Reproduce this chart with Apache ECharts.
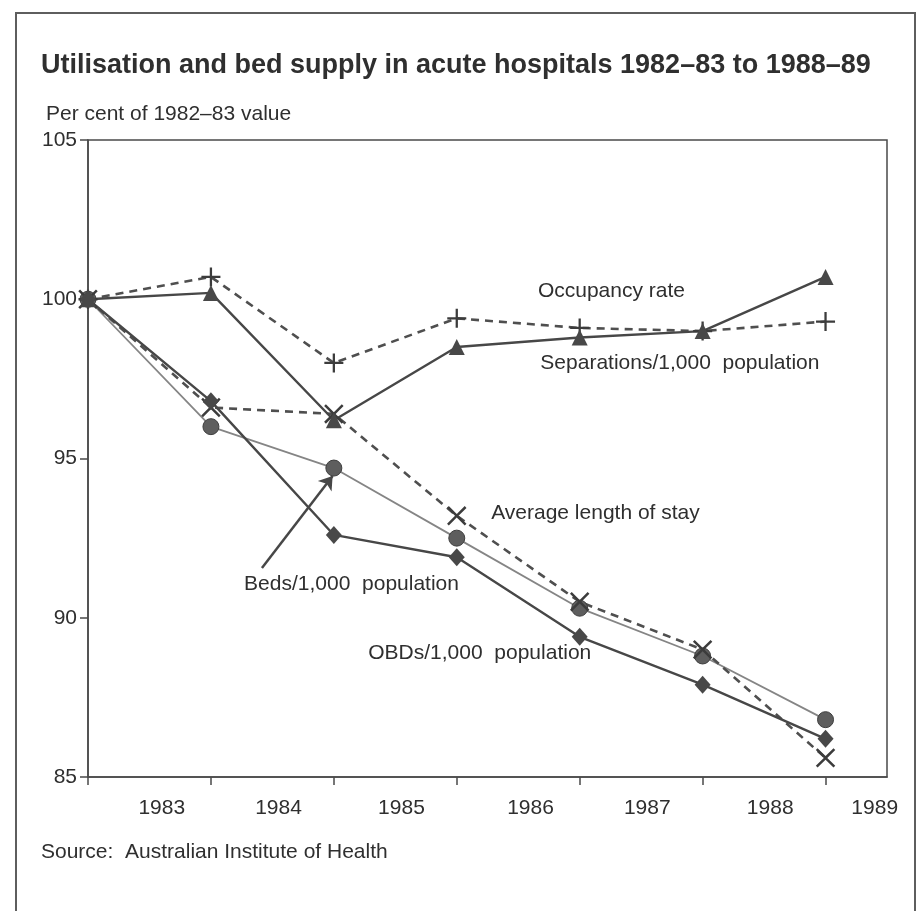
<!DOCTYPE html>
<html>
<head>
<meta charset="utf-8">
<title>Utilisation and bed supply in acute hospitals</title>
<script src="https://cdn.jsdelivr.net/npm/echarts@6.0.0/dist/echarts.min.js"></script>
<style>
html, body { margin: 0; padding: 0; background: #fff; }
#chart { width: 920px; height: 911px; }
</style>
</head>
<body>
<div id="chart"></div>
<script>
// x: 0 = 1982-83 ... 6 = 1988-89
var years = [0, 1, 2, 3, 4, 5, 6];
var yearLabels = ['1983', '1984', '1985', '1986', '1987', '1988', '1989'];
var yearLabelPos = [0.6, 1.55, 2.55, 3.6, 4.55, 5.55, 6.4];

// per cent of 1982-83 value
var occupancy   = [100, 100.2, 96.2, 98.5, 98.8, 99.0, 100.7];
var separations = [100, 100.7, 98.0, 99.4, 99.1, 99.0, 99.3];
var avgStay     = [100, 96.6, 96.4, 93.2, 90.5, 89.0, 85.6];
var beds        = [100, 96.0, 94.7, 92.5, 90.3, 88.8, 86.8];
var obds        = [100, 96.8, 92.6, 91.9, 89.4, 87.9, 86.2];

// text notes next to the lines
var notes = [
    ['Occupancy rate', 3.66, 100.25],
    ['Separations/1,000  population', 3.68, 97.99],
    ['Average length of stay', 3.28, 93.27],
    ['Beds/1,000  population', 1.27, 91.04],
    ['OBDs/1,000  population', 2.28, 88.9]
];

var ink = '#2f2f2f';
var lineInk = '#474747';
var font = '"Liberation Sans", Arial, Helvetica, sans-serif';
var plusPath = 'path://M8.8,0H11.2V8.8H20V11.2H11.2V20H8.8V11.2H0V8.8H8.8Z';
var crossPath = 'path://M9,0H11V9H20V11H11V20H9V11H0V9H9Z';

function pairs(vals) {
    return years.map(function (x, i) { return [x, vals[i]]; });
}

var dom = document.getElementById('chart');
var myChart = echarts.init(dom, null, { renderer: 'canvas' });

var option = {
    animation: false,
    backgroundColor: '#fff',
    textStyle: { fontFamily: font, color: ink },
    title: [
        {
            text: 'Utilisation and bed supply in acute hospitals 1982\u201383 to 1988\u201389',
            left: 41, top: 52, padding: 0,
            textStyle: { fontFamily: font, fontSize: 27, fontWeight: 'bold', color: ink }
        },
        {
            text: 'Per cent of 1982\u201383 value',
            left: 46, top: 104, padding: 0,
            textStyle: { fontFamily: font, fontSize: 21, fontWeight: 'normal', color: ink }
        },
        {
            text: 'Source:  Australian Institute of Health',
            left: 41, top: 842, padding: 0,
            textStyle: { fontFamily: font, fontSize: 21, fontWeight: 'normal', color: ink }
        }
    ],
    graphic: [{
        type: 'rect',
        shape: { x: 16, y: 13, width: 899, height: 920 },
        style: { fill: 'none', stroke: '#5e5e5e', lineWidth: 2 },
        silent: true
    }],
    grid: {
        left: 88, right: 33, top: 140, bottom: 134,
        show: true, borderColor: '#4a4a4a', borderWidth: 1.5
    },
    xAxis: {
        type: 'value',
        min: 0, max: 6.5,
        splitLine: { show: false },
        axisLine: { show: true, lineStyle: { color: '#4a4a4a', width: 1.5 } },
        axisTick: {
            show: true, inside: false, length: 8,
            customValues: years,
            lineStyle: { color: '#4a4a4a', width: 1.5 }
        },
        axisLabel: {
            margin: 21,
            fontSize: 21, color: ink, fontFamily: font,
            customValues: yearLabelPos,
            formatter: function (v) {
                var best = 0;
                for (var i = 1; i < yearLabelPos.length; i++) {
                    if (Math.abs(yearLabelPos[i] - v) < Math.abs(yearLabelPos[best] - v)) best = i;
                }
                return yearLabels[best];
            }
        }
    },
    yAxis: {
        type: 'value',
        min: 85, max: 105, interval: 5,
        splitLine: { show: false },
        axisLine: { show: true, lineStyle: { color: '#4a4a4a', width: 1.5 } },
        axisTick: { show: true, inside: false, length: 8, lineStyle: { color: '#4a4a4a', width: 1.5 } },
        axisLabel: { margin: 11, fontSize: 21, color: ink, fontFamily: font }
    },
    series: [
        {
            name: 'Beds/1,000 population',
            type: 'line',
            data: pairs(beds),
            symbol: 'circle', symbolSize: 16,
            lineStyle: { color: '#858585', width: 1.8 },
            itemStyle: { color: '#5e5e5e', borderColor: '#3f3f3f', borderWidth: 1 },
            markLine: {
                silent: true,
                symbol: ['none', 'arrow'], symbolSize: 13,
                label: { show: false },
                lineStyle: { color: lineInk, width: 2.5, type: 'solid' },
                data: [[{ coord: [1.415, 91.56] }, { coord: [1.99, 94.45] }]]
            }
        },
        {
            name: 'Average length of stay',
            type: 'line',
            data: pairs(avgStay),
            symbol: crossPath, symbolSize: 25, symbolRotate: 45,
            lineStyle: { color: '#4f4f4f', width: 2.6, type: [8, 6] },
            itemStyle: { color: '#3c3c3c' }
        },
        {
            name: 'Separations/1,000 population',
            type: 'line',
            data: pairs(separations),
            symbol: plusPath, symbolSize: 19,
            lineStyle: { color: '#4f4f4f', width: 2.6, type: [8, 6] },
            itemStyle: { color: '#3c3c3c' }
        },
        {
            name: 'OBDs/1,000 population',
            type: 'line',
            data: pairs(obds),
            symbol: 'diamond', symbolSize: [16, 18],
            lineStyle: { color: lineInk, width: 2.4 },
            itemStyle: { color: '#484848' }
        },
        {
            name: 'Occupancy rate',
            type: 'line',
            data: pairs(occupancy),
            symbol: 'triangle', symbolSize: 16,
            lineStyle: { color: lineInk, width: 2.4 },
            itemStyle: { color: '#484848' }
        },
        {
            name: 'notes',
            type: 'scatter',
            silent: true,
            symbolSize: 0,
            itemStyle: { opacity: 1 },
            data: notes.map(function (n) { return { name: n[0], value: [n[1], n[2]] }; }),
            label: {
                show: true, position: 'right', distance: 0,
                formatter: '{b}',
                fontSize: 21, color: ink, fontFamily: font
            }
        }
    ]
};

myChart.setOption(option);
window.addEventListener('resize', myChart.resize);
</script>
</body>
</html>
